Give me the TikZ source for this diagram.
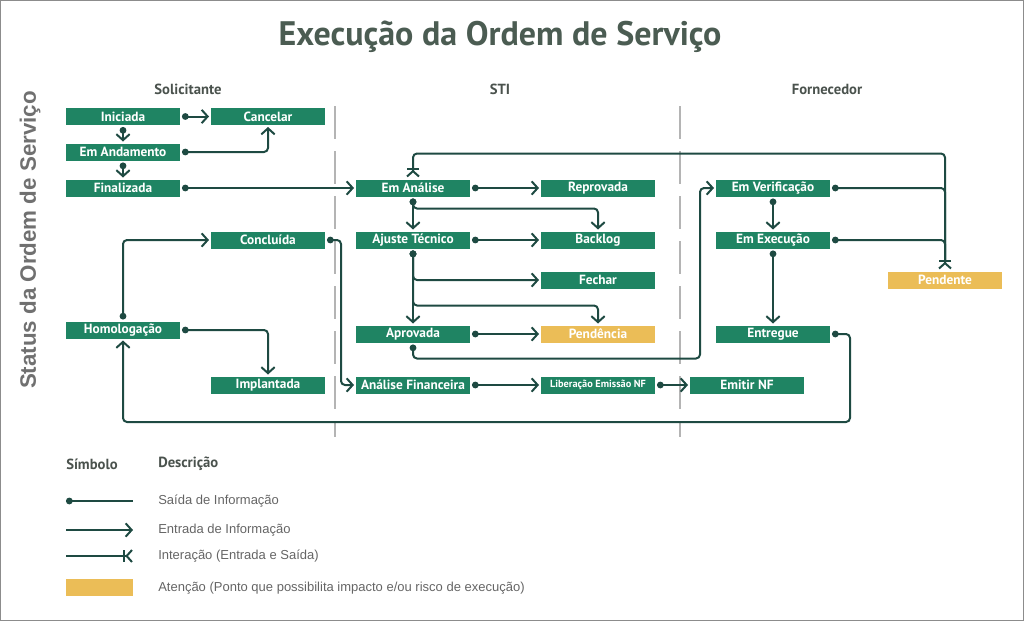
\documentclass[tikz,border=0pt]{standalone}
\usepackage{fontspec}
\setmainfont{Liberation Sans}
\newfontfamily\boxfont{PT Sans}
\usetikzlibrary{arrows.meta, positioning}
\definecolor{osgreen}{HTML}{1F8463}
\definecolor{osyellow}{HTML}{EBBD57}
\definecolor{oslink}{HTML}{1E4A42}
\definecolor{ostitle}{HTML}{4B5C52}
\definecolor{oshead}{HTML}{4A524D}
\definecolor{osgray}{HTML}{707070}
\definecolor{osdash}{HTML}{B4B4B4}
\tikzstyle{status} = [rectangle, fill=osgreen, text=white, font=\boxfont\bfseries\fontsize{10}{12}\selectfont, minimum width=85.5pt, minimum height=12.75pt, inner sep=0pt, outer sep=1.5pt]
\tikzstyle{attention} = [status, fill=osyellow]
\tikzstyle{flow} = [line width=1.5pt, draw=oslink, rounded corners=3pt]
\tikzstyle{saida} = [flow, {Circle[length=5pt]}-{Straight Barb[length=4.5pt,width=10pt]}]
\tikzstyle{saidaonly} = [flow, {Circle[length=5pt]}-]
\tikzstyle{interacao} = [flow, {Straight Barb[reversed,length=4pt,width=9pt]Bar[width=9pt]}-{Bar[width=9pt]Straight Barb[reversed,length=4pt,width=9pt]}]
\tikzstyle{column} = [font=\boxfont\bfseries\fontsize{11}{13}\selectfont, text=oshead]
\tikzstyle{separator} = [osdash, line width=1.5pt, dash pattern=on 24.75pt off 9pt]
\tikzstyle{legendtext} = [anchor=west, font=\fontsize{9.75}{12}\selectfont, text=osgray!90!black, inner sep=0pt]

\begin{document}
\begin{tikzpicture}[x=0.75pt, y=-0.75pt]
\useasboundingbox (0,0) rectangle (1024,621);
\draw[gray!90, line width=0.75pt] (0.5,0.5) rectangle (1023.5,620.5);

% Titles
\node (title) at (500,37) [font=\boxfont\bfseries\fontsize{25.5}{30}\selectfont, text=ostitle] {Execução da Ordem de Serviço};
\node (axis) at (30,240) [rotate=90, font=\bfseries\fontsize{16.75}{20}\selectfont, text=osgray] {Status da Ordem de Serviço};
\node (solic) at (188,89) [column] {Solicitante};
\node (sti) at (500,89) [column] {STI};
\node (forn) at (827,89) [column] {Fornecedor};

% Separators
\draw[separator] (335,106) -- (335,437);
\draw[separator] (680,106) -- (680,437);

% Nodes
\node (iniciada) at (123,116.5) [status] {Iniciada};
\node (cancelar) at (268,116.5) [status] {Cancelar};
\node (andamento) at (123,152) [status] {Em Andamento};
\node (finalizada) at (123,188) [status] {Finalizada};
\node (concluida) at (268,240) [status] {Concluída};
\node (homolog) at (123,330) [status] {Homologação};
\node (implantada) at (268,385) [status] {Implantada};

\node (analise) at (413,188) [status] {Em Análise};
\node (reprovada) at (598,188) [status] {Reprovada};
\node (ajuste) at (413,240) [status] {Ajuste Técnico};
\node (backlog) at (598,240) [status] {Backlog};
\node (fechar) at (598,280) [status] {Fechar};
\node (aprovada) at (413,334) [status] {Aprovada};
\node (pendencia) at (598,334) [attention] {Pendência};
\node (financeira) at (413,385) [status] {Análise Financeira};
\node (liberacao) at (598,385) [status, font=\boxfont\bfseries\fontsize{7.75}{9}\selectfont] {Liberação Emissão NF};

\node (verif) at (773,188) [status] {Em Verificação};
\node (execucao) at (773,240) [status] {Em Execução};
\node (entregue) at (773,334) [status] {Entregue};
\node (emitir) at (747,385) [status] {Emitir NF};
\node (pendente) at (945,280) [attention] {Pendente};

\coordinate (retorno) at (850,422);

% Connections
\draw [saida] (iniciada) -- (cancelar);
\draw [saida] (iniciada) -- (andamento);
\draw [saida] (andamento) -- (finalizada);
\draw [saida] (andamento.east) -| (cancelar.south);
\draw [saida] (finalizada) -- (analise);

\draw [saida] (homolog.north) |- (concluida.west);
\draw [saida] (homolog.east) -| (implantada.north);
\draw [saida] (concluida.east) -| ([xshift=-9.75pt]financeira.west) -- (financeira.west);

\draw [saida] (analise) -- (reprovada);
\draw [saida] (analise) -- (ajuste);
\draw [saida] (analise.south) -- ++(0,10) -| (backlog.north);
\draw [saida] (ajuste) -- (backlog);
\draw [saida] (ajuste) -- (aprovada);
\draw [saida] (ajuste.south) |- (fechar.west);
\draw [saida] (ajuste.south) -- ++(0,55) -| (pendencia.north);
\draw [saida] (aprovada) -- (pendencia);
\draw [saida] (aprovada.south) -- ++(0,14) -| ([xshift=-10.5pt]verif.west) -- (verif.west);
\draw [saida] (financeira) -- (liberacao);
\draw [saida] (liberacao) -- (emitir);

\draw [saida] (verif) -- (execucao);
\draw [saida] (execucao) -- (entregue);
\draw [saida] (entregue.east) -| (retorno) -| (homolog.south);

\draw [interacao] (analise.north) -- ++(0,-24) -| (pendente.north);
\draw [saidaonly, shorten >=6pt] (verif.east) -| (pendente.north);
\draw [saidaonly, shorten >=6pt] (execucao.east) -| (pendente.north);

% Legend
\node (simbolo) at (66,464) [column, anchor=west, inner sep=0pt] {Símbolo};
\node (descricao) at (158,464) [column, anchor=west, inner sep=0pt] {Descrição};
\draw [saidaonly] (66,501) -- (133,501);
\draw [flow, -{Straight Barb[length=4.5pt,width=10pt]}] (66,530) -- (133,530);
\draw [flow, -{Bar[width=9pt]Straight Barb[reversed,length=4pt,width=9pt]}] (66,556) -- (133,556);
\fill [osyellow] (66,579) rectangle (133,596);
\node at (158,501) [legendtext] {Saída de Informação};
\node at (158,530) [legendtext] {Entrada de Informação};
\node at (158,556) [legendtext] {Interação (Entrada e Saída)};
\node at (158,588) [legendtext] {Atenção (Ponto que possibilita impacto e/ou risco de execução)};

\end{tikzpicture}
\end{document}
